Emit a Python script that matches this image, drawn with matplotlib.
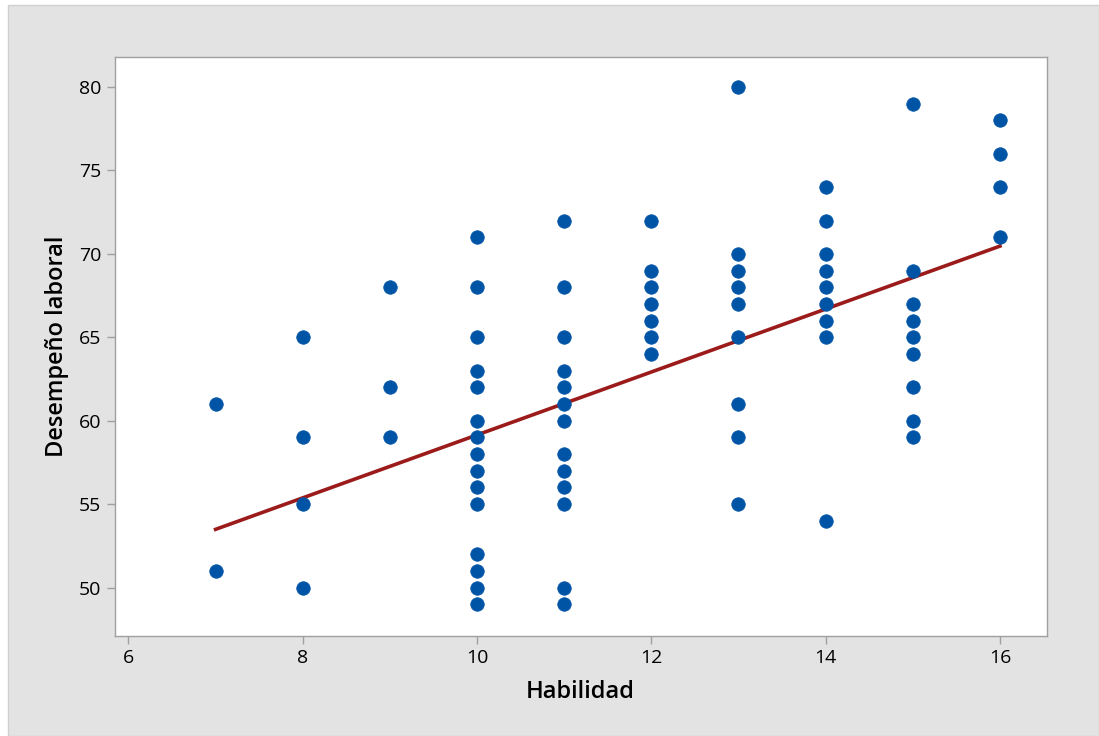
import matplotlib
matplotlib.use("Agg")
import matplotlib.pyplot as plt
from matplotlib.patches import Rectangle
import numpy as np

plt.rcParams['font.family'] = ['Open Sans', 'DejaVu Sans']

# Habilidad (x) -> Desempeño laboral (y), one list per column of points
habilidad_vals = [7, 8, 9, 10, 11, 12, 13, 14, 15, 16]
desempeno_vals = [
    [61, 51],
    [65, 59, 55, 50],
    [68, 62, 59],
    [71, 68, 65, 63, 62, 60, 59, 58, 57, 56, 55, 52, 51, 50, 49],
    [72, 68, 65, 63, 62, 61, 60, 58, 57, 56, 55, 50, 49],
    [72, 69, 68, 67, 66, 65, 64],
    [80, 70, 69, 68, 67, 65, 61, 59, 55],
    [74, 72, 70, 69, 68, 67, 66, 65, 54],
    [79, 69, 67, 66, 65, 64, 62, 60, 59],
    [78, 76, 74, 71],
]

# fitted line (data has overlapping points)
fit_intercept = 40.29
fit_slope = 1.886

x = []
y = []
for hx, ys in zip(habilidad_vals, desempeno_vals):
    x += [hx] * len(ys)
    y += ys
x = np.array(x)
y = np.array(y)

fig = plt.figure(figsize=(10.99, 7.36), dpi=100)
fig.patch.set_facecolor('white')
fig.patches.append(Rectangle((8 / 1099, 0), 1 - 8 / 1099, 1 - 5 / 736,
                             transform=fig.transFigure, facecolor='#e3e3e3',
                             edgecolor='#d0d0d0', linewidth=1, zorder=-10))

ax = fig.add_axes([114.5 / 1099, 1 - 636 / 736, (1047 - 114.5) / 1099, (636 - 57) / 736])
ax.set_zorder(5)
ax.set_facecolor('white')

ax.scatter(x, y, s=95, color='#0054a6', edgecolors='#0054a6', linewidths=0.5, zorder=3)

xl = np.array([min(habilidad_vals), max(habilidad_vals)])
ax.plot(xl, fit_intercept + fit_slope * xl, color='#9b1b1b', linewidth=2.6, zorder=2)

ax.set_xlim(5.84, 16.54)
ax.set_ylim(47.1, 81.8)
ax.set_xticks([6, 8, 10, 12, 14, 16])
ax.set_yticks([50, 55, 60, 65, 70, 75, 80])

for s in ax.spines.values():
    s.set_color('#a0a0a0')
    s.set_linewidth(1)
ax.tick_params(axis='both', colors='#a0a0a0', labelcolor='black', length=6,
               width=1, labelsize=14)

ax.set_xlabel('Habilidad', fontsize=17, fontweight='semibold', labelpad=9)
ax.set_ylabel('Desempeño laboral', fontsize=17, fontweight='semibold', labelpad=7)

fig.savefig('out.png', dpi=100)
